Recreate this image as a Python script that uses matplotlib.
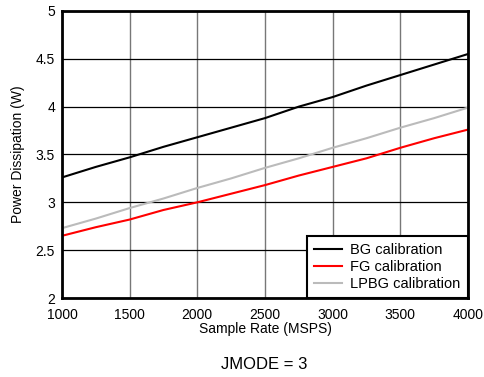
import matplotlib
matplotlib.use("Agg")
import matplotlib.pyplot as plt

plt.rcParams['font.family'] = ['Liberation Sans', 'DejaVu Sans']

rate = [1000, 1250, 1500, 1750, 2000, 2250, 2500, 2750, 3000, 3250, 3500, 3750, 4000]
bg = [3.26, 3.37, 3.47, 3.58, 3.68, 3.78, 3.88, 4.00, 4.10, 4.22, 4.33, 4.44, 4.55]
fg = [2.65, 2.74, 2.82, 2.92, 3.00, 3.09, 3.18, 3.28, 3.37, 3.46, 3.57, 3.67, 3.76]
lpbg = [2.73, 2.83, 2.94, 3.04, 3.15, 3.25, 3.36, 3.46, 3.57, 3.67, 3.78, 3.88, 3.99]

xticks = [1000, 1500, 2000, 2500, 3000, 3500, 4000]
yticks = [2, 2.5, 3, 3.5, 4, 4.5, 5]
ytick_labels = ['2', '2.5', '3', '3.5', '4', '4.5', '5']

fig = plt.figure(figsize=(4.84, 3.77), dpi=100)
ax = fig.add_axes([0.128, 0.2095, 0.839, 0.7615])

ax.plot(rate, bg, color='black', lw=1.5, label='BG calibration')
ax.plot(rate, fg, color='#ff0000', lw=1.5, label='FG calibration')
ax.plot(rate, lpbg, color='#bbbbbb', lw=1.5, label='LPBG calibration')

ax.set_xlim(1000, 4000)
ax.set_ylim(2, 5)
ax.set_xticks(xticks)
ax.set_yticks(yticks)
ax.set_yticklabels(ytick_labels)
ax.tick_params(length=0, labelsize=10)
ax.tick_params(axis='x', pad=7)
ax.tick_params(axis='y', pad=5)
ax.xaxis.grid(True, color='#777777', lw=1)
ax.yaxis.grid(True, color='black', lw=0.9)
ax.set_axisbelow(True)
for s in ax.spines.values():
    s.set_linewidth(2)

ax.set_xlabel('Sample Rate (MSPS)', fontsize=10, labelpad=0)
ax.set_ylabel('Power Dissipation (W)', fontsize=10, labelpad=8)

leg = ax.legend(loc='lower right', fontsize=10.5, fancybox=False, framealpha=1,
                edgecolor='black', borderaxespad=0, handlelength=1.9,
                handletextpad=0.6, labelspacing=0.2, borderpad=0.5)
leg.get_frame().set_linewidth(1.5)

fig.text(0.545, 0.032, 'JMODE = 3', ha='center', va='center', fontsize=12)

fig.savefig('out.png', dpi=100)
